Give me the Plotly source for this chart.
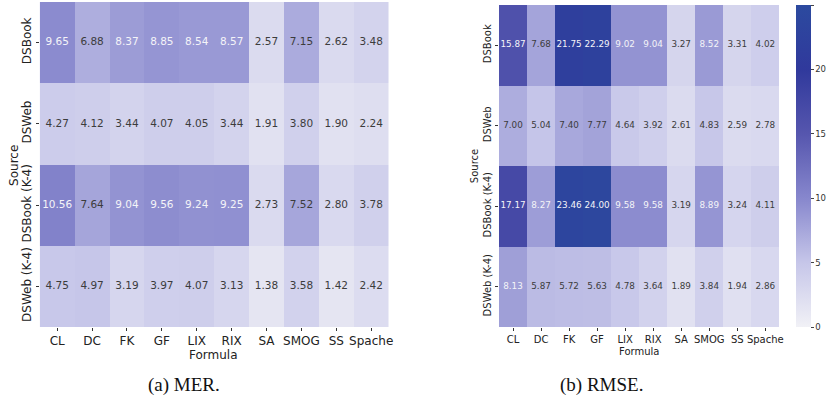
import plotly.graph_objects as go

formulas = ["CL", "DC", "FK", "GF", "LIX", "RIX", "SA", "SMOG", "SS", "Spache"]
sources = ["DSBook", "DSWeb", "DSBook (K-4)", "DSWeb (K-4)"]

mer = [
    [9.65, 6.88, 8.37, 8.85, 8.54, 8.57, 2.57, 7.15, 2.62, 3.48],
    [4.27, 4.12, 3.44, 4.07, 4.05, 3.44, 1.91, 3.80, 1.90, 2.24],
    [10.56, 7.64, 9.04, 9.56, 9.24, 9.25, 2.73, 7.52, 2.80, 3.78],
    [4.75, 4.97, 3.19, 3.97, 4.07, 3.13, 1.38, 3.58, 1.42, 2.42],
]
rmse = [
    [15.87, 7.68, 21.75, 22.29, 9.02, 9.04, 3.27, 8.52, 3.31, 4.02],
    [7.00, 5.04, 7.40, 7.77, 4.64, 3.92, 2.61, 4.83, 2.59, 2.78],
    [17.17, 8.27, 23.46, 24.00, 9.58, 9.58, 3.19, 8.89, 3.24, 4.11],
    [8.13, 5.87, 5.72, 5.63, 4.78, 3.64, 1.89, 3.84, 1.94, 2.86],
]
cbar_ticks = [0, 5, 10, 15, 20, 25]
captions = ["(a) MER.", "(b) RMSE."]

W, H = 835, 410
colorscale = [
    [0.0, "#f1f1f6"],
    [0.2, "#c6c6e9"],
    [0.4, "#8787cd"],
    [0.6, "#5656ae"],
    [0.8, "#30399c"],
    [1.0, "#2c4a9f"],
]

def px_x(p):
    return p / W

def px_y(p):
    return 1 - p / H

fig = go.Figure()

panels = [
    dict(z=mer, xa="x", ya="y", dom_x=(40, 391), dom_y=(2, 327), fs=10.5, tfs=12, cb=False),
    dict(z=rmse, xa="x2", ya="y2", dom_x=(502, 784), dom_y=(5, 327), fs=8.8, tfs=10, cb=True),
]

for i, p in enumerate(panels):
    hm = go.Heatmap(
        z=p["z"], x=formulas, y=sources, xaxis=p["xa"], yaxis=p["ya"],
        colorscale=colorscale, zmin=0, zmax=25, showscale=p["cb"], hoverinfo="skip",
    )
    if p["cb"]:
        hm.colorbar = dict(
            x=px_x(801), xanchor="left", xpad=0, ypad=0,
            y=px_y(5), yanchor="top", lenmode="pixels", len=322,
            thickness=15, outlinewidth=0, ticks="outside", ticklen=3,
            tickcolor="#444", tickvals=cbar_ticks,
            tickfont=dict(family="DejaVu Sans", size=8.5, color="#333"),
        )
    fig.add_trace(hm)
    # cell labels
    for light in (True, False):
        xs, ys, ts = [], [], []
        for r, src in enumerate(sources):
            for c, f in enumerate(formulas):
                v = p["z"][r][c]
                if (v > 8.0) == light:
                    xs.append(f); ys.append(src); ts.append(f"{v:.2f}")
        fig.add_trace(go.Scatter(
            x=xs, y=ys, text=ts, mode="text", xaxis=p["xa"], yaxis=p["ya"],
            textfont=dict(family="DejaVu Sans", size=p["fs"],
                          color="#f4f4f8" if light else "#3c3c3c"),
            hoverinfo="skip", showlegend=False,
        ))
    axkey = "xaxis" if i == 0 else "xaxis2"
    aykey = "yaxis" if i == 0 else "yaxis2"
    fig.layout[axkey] = dict(
        domain=[px_x(p["dom_x"][0]), px_x(p["dom_x"][1])],
        anchor=p["ya"], range=[-0.5, 9.5], showgrid=False, zeroline=False,
        ticks="outside", ticklen=3, tickcolor="#333", tickwidth=1,
        tickfont=dict(family="DejaVu Sans", size=p["tfs"], color="#222"),
        showline=False, fixedrange=True,
    )
    fig.layout[aykey] = dict(
        domain=[px_y(p["dom_y"][1]), px_y(p["dom_y"][0])],
        anchor=p["xa"], range=[3.5, -0.5], showgrid=False, zeroline=False,
        ticks="outside", ticklen=3, tickcolor="#333", tickwidth=1,
        tickangle=-90,
        tickfont=dict(family="DejaVu Sans", size=p["tfs"], color="#222"),
        showline=False, fixedrange=True,
    )

def ann(text, x, y, size, family="DejaVu Sans", angle=0, color="#222"):
    return dict(text=text, x=px_x(x), y=px_y(y), xref="paper", yref="paper",
                xanchor="center", yanchor="middle", showarrow=False,
                textangle=angle, font=dict(family=family, size=size, color=color))

annotations = [
    ann("Formula", 215, 355, 12),
    ann("Source", 14, 165, 12, angle=-90),
    ann("Formula", 643, 351, 10),
    ann("Source", 477, 166, 10, angle=-90),
    ann(captions[0], 185, 385, 19, family="Liberation Serif", color="#111"),
    ann(captions[1], 605, 385, 19, family="Liberation Serif", color="#111"),
]

fig.update_layout(
    width=W, height=H, margin=dict(l=0, r=0, t=0, b=0),
    paper_bgcolor="white", plot_bgcolor="white",
    showlegend=False, annotations=annotations,
)

fig.write_html("out.html")
